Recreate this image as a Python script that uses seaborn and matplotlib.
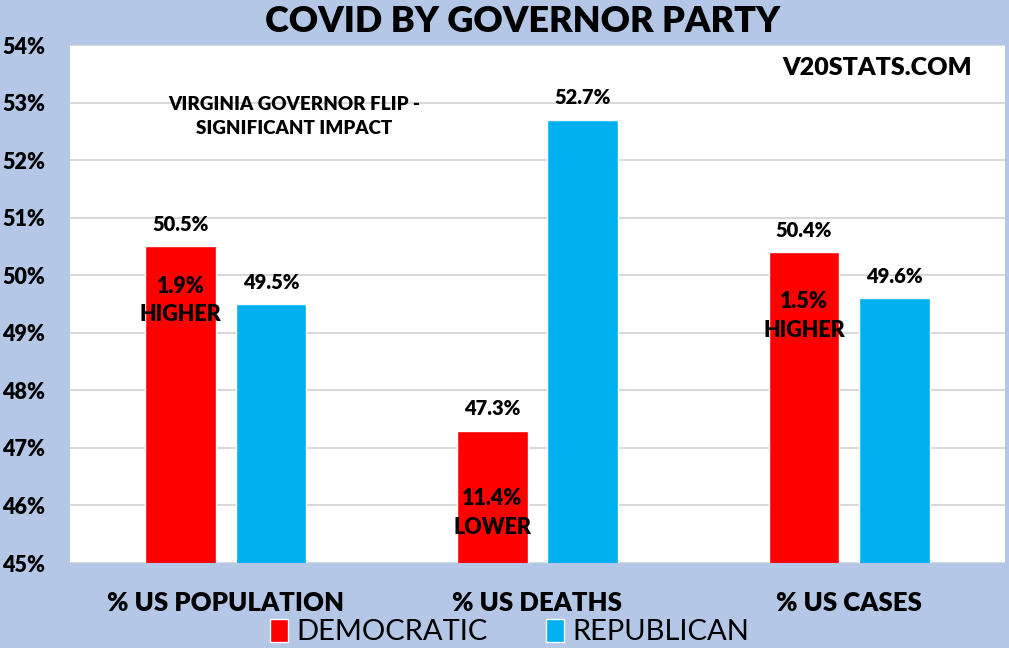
import matplotlib
matplotlib.use("Agg")
import matplotlib.pyplot as plt
import seaborn as sns
import pandas as pd

# ── Data ──────────────────────────────────────────────────────────────────────
CATEGORIES = ["% US POPULATION", "% US DEATHS", "% US CASES"]
PARTIES = ["DEMOCRATIC", "REPUBLICAN"]
DEM_VALUES = [50.5, 47.3, 50.4]
REP_VALUES = [49.5, 52.7, 49.6]
DIFF_NOTES = ["1.9%\nHIGHER", "11.4%\nLOWER", "1.5%\nHIGHER"]
DIFF_NOTE_Y = [49.56, 45.87, 49.29]
Y_TICKS = list(range(45, 55))

COLORS = {"DEMOCRATIC": "#FF0000", "REPUBLICAN": "#00B0F0"}
BG = "#B4C7E7"
FONT = ["Lato", "DejaVu Sans"]

df = pd.DataFrame({
    "category": CATEGORIES * 2,
    "party": [PARTIES[0]] * 3 + [PARTIES[1]] * 3,
    "value": DEM_VALUES + REP_VALUES,
})

sns.set_theme(style="white")
plt.rcParams["font.family"] = FONT
plt.rcParams["text.color"] = "black"
plt.rcParams["xtick.color"] = "black"
plt.rcParams["ytick.color"] = "black"

fig = plt.figure(figsize=(10.09, 6.48), dpi=100, facecolor=BG)
ax = fig.add_axes([70 / 1009, 1 - 563 / 648, 935 / 1009, 518 / 648])
ax.set_facecolor("white")

sns.barplot(data=df, x="category", y="value", hue="party", order=CATEGORIES,
            hue_order=PARTIES, palette=COLORS, width=0.58, gap=0.22,
            saturation=1, ax=ax, legend=True, zorder=3)

ax.set_ylim(45, 54)
ax.set_xlim(-0.5, 2.5)
ax.set_yticks(Y_TICKS)
ax.set_yticklabels([f"{t}%" for t in Y_TICKS], fontsize=15.5, fontweight="heavy")
ax.yaxis.grid(True, color="#D9D9D9", linewidth=1.5, zorder=0)
ax.set_axisbelow(True)
for s in ax.spines.values():
    s.set_visible(False)
ax.tick_params(axis="y", length=0, pad=18, labelcolor="black")
ax.tick_params(axis="x", length=0, pad=20, labelcolor="black")
for lbl in ax.get_xticklabels():
    lbl.set_fontsize(18.5)
    lbl.set_fontweight("heavy")
ax.set_xlabel("")
ax.set_ylabel("")

# value labels on top of bars
for container in ax.containers:
    for bar in container:
        h = bar.get_height()
        ax.text(bar.get_x() + bar.get_width() / 2, h + 0.38, f"{h:.1f}%",
                ha="center", va="center", fontsize=14.5, fontweight="heavy")

# difference notes inside the red bars
dem_bars = ax.containers[0]
for bar, note, ny in zip(dem_bars, DIFF_NOTES, DIFF_NOTE_Y):
    ax.text(bar.get_x() + bar.get_width() / 2, ny, note, ha="center", va="center",
            fontsize=15.5, fontweight="heavy", linespacing=1.45)

ax.text(0.22, 52.76, "VIRGINIA GOVERNOR FLIP -\nSIGNIFICANT IMPACT", ha="center",
        va="center", fontsize=13.5, fontweight="heavy", linespacing=1.5)
ax.text(2.09, 53.6, "V20STATS.COM", ha="center", va="center",
        fontsize=18, fontweight="heavy")

fig.text(523 / 1009, 1 - 22 / 648, "COVID BY GOVERNOR PARTY", ha="center",
         va="center", fontsize=26, fontweight="heavy")

ax.get_legend().remove()
handles, labels = ax.get_legend_handles_labels()
fig.legend(handles[:2], labels[:2], loc="center", bbox_to_anchor=(510 / 1009, 1 - 632 / 648),
           ncol=2, frameon=False, fontsize=21, handlelength=0.6, handleheight=0.85,
           handletextpad=0.3, columnspacing=2.0, borderpad=0)

fig.savefig("out.png", dpi=100, facecolor=BG)
